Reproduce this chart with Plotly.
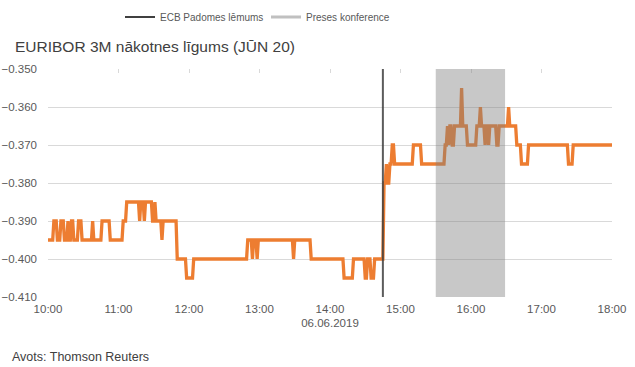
import plotly.graph_objects as go
from datetime import datetime, timedelta

DATE = "2019-06-06"

# change points of the EURIBOR 3M futures quote (value holds until next change)
times = [
    "10:00", "10:05", "10:08", "10:11", "10:14", "10:17", "10:18", "10:20", "10:22", "10:26",
    "10:29", "10:38", "10:39", "10:46", "10:53", "11:04", "11:07", "11:18", "11:19", "11:22",
    "11:23", "11:29", "11:31", "11:32", "11:37", "11:38", "11:50", "11:58", "12:04", "12:50",
    "12:54", "12:55", "12:58", "12:59", "13:29", "13:30", "13:44", "14:12", "14:20", "14:30",
    "14:32", "14:35", "14:38", "14:46", "14:48", "14:49", "14:51", "14:53", "14:55", "15:11",
    "15:18", "15:38", "15:40", "15:41", "15:42", "15:44", "15:46", "15:52", "15:53", "15:57",
    "16:05", "16:08", "16:09", "16:12", "16:13", "16:15", "16:16", "16:22", "16:24", "16:32",
    "16:33", "16:39", "16:43", "16:49", "17:23", "17:27", "18:00",
]
values = [
    -0.395, -0.390, -0.395, -0.390, -0.395, -0.390, -0.395, -0.390, -0.395, -0.390,
    -0.395, -0.390, -0.395, -0.390, -0.395, -0.390, -0.385, -0.390, -0.385, -0.390,
    -0.385, -0.390, -0.385, -0.390, -0.395, -0.390, -0.400, -0.405, -0.400, -0.395,
    -0.400, -0.395, -0.400, -0.395, -0.400, -0.395, -0.400, -0.405, -0.400, -0.405,
    -0.400, -0.405, -0.400, -0.380, -0.375, -0.380, -0.375, -0.370, -0.375, -0.370,
    -0.375, -0.370, -0.365, -0.370, -0.365, -0.370, -0.365, -0.355, -0.365, -0.370,
    -0.365, -0.360, -0.365, -0.370, -0.365, -0.370, -0.365, -0.370, -0.365, -0.360,
    -0.365, -0.370, -0.375, -0.370, -0.375, -0.370, -0.370,
]

ecb_decision = "14:45"
press_conf = ["15:30", "16:29"]

tick_times = ["10:00", "11:00", "12:00", "13:00", "14:00", "15:00", "16:00", "17:00", "18:00"]
tick_text = ["10:00", "11:00", "12:00", "13:00", "14:00<br>06.06.2019", "15:00", "16:00", "17:00", "18:00"]

title = "EURIBOR 3M nākotnes līgums (JŪN 20)"
legend_names = ["ECB Padomes lēmums", "Preses konference"]
source = "Avots: Thomson Reuters"

y_min, y_max = -0.410, -0.350


def dt(t):
    return datetime.strptime(f"{DATE} {t}", "%Y-%m-%d %H:%M")


# one-minute quotes: the previous value is still quoted one minute before each change
line_x, line_y = [], []
for i, (t, v) in enumerate(zip(times, values)):
    if i > 0:
        line_x.append(dt(t) - timedelta(minutes=1))
        line_y.append(values[i - 1])
    line_x.append(dt(t))
    line_y.append(v)

x_range = [dt("10:00"), dt("18:00")]

FONT = "Liberation Sans, Arial, sans-serif"
GREY_TXT = "#595959"

W, H = 635, 367
ML, MR, MT, MB = 48, 23, 69, 70
PW = W - ML - MR
PH = H - MT - MB

fig = go.Figure()
fig.add_trace(go.Scatter(
    x=line_x, y=line_y, mode="lines", line=dict(color="#ED7D31", width=3.3),
    showlegend=False,
))
fig.add_trace(go.Scatter(
    x=[x_range[0]], y=[None], mode="lines", name=legend_names[0],
    line=dict(color="#404040", width=2), xaxis="x2",
))
fig.add_trace(go.Scatter(
    x=[x_range[0]], y=[None], mode="lines", name=legend_names[1],
    line=dict(color="#C0C0C0", width=3), xaxis="x2",
))

fig.add_shape(type="rect", xref="x", yref="y", x0=dt(press_conf[0]), x1=dt(press_conf[1]),
              y0=y_min, y1=y_max, fillcolor="rgb(128,128,128)", opacity=0.43,
              line=dict(width=0), layer="above")
fig.add_shape(type="line", xref="x", yref="y", x0=dt(ecb_decision), x1=dt(ecb_decision),
              y0=y_min, y1=y_max, line=dict(color="#404040", width=2), opacity=0.85,
              layer="above")

fig.update_layout(
    width=W, height=H,
    margin=dict(l=ML, r=MR, t=MT, b=MB, autoexpand=False),
    paper_bgcolor="white", plot_bgcolor="white",
    font=dict(family=FONT, size=12, color=GREY_TXT),
    title=dict(text=title, x=15 / W, xanchor="left", xref="container",
               y=1 - 47 / H, yanchor="middle", yref="container",
               font=dict(family=FONT, size=15.5, color="#404040")),
    legend=dict(orientation="h", x=(120 - ML) / PW, xanchor="left",
                y=1 + (MT - 17) / PH, yanchor="middle",
                font=dict(family=FONT, size=10, color=GREY_TXT), itemwidth=30,
                entrywidth=101, entrywidthmode="pixels",
                bgcolor="rgba(0,0,0,0)"),
    xaxis=dict(type="date", range=x_range, tickvals=[dt(t) for t in tick_times],
               ticktext=tick_text, showgrid=False, showline=False, zeroline=False,
               ticks="", ticklabelstandoff=3, automargin=False,
               tickfont=dict(family=FONT, size=11.5, color=GREY_TXT)),
    xaxis2=dict(type="date", range=x_range, overlaying="x", side="top",
                tickvals=[dt(t) for t in tick_times], showticklabels=False,
                showgrid=False, showline=False, zeroline=False, automargin=False,
                ticks="inside", ticklen=4, tickcolor="#D9D9D9", tickwidth=1),
    yaxis=dict(range=[y_min, y_max], dtick=0.01, tick0=y_min, tickformat=".3f",
               showgrid=True, gridcolor="#D9D9D9", gridwidth=1, zeroline=False,
               showline=False, ticks="", ticklabelstandoff=10, automargin=False,
               tickfont=dict(family=FONT, size=11.5, color=GREY_TXT)),
    annotations=[dict(text=source, xref="paper", yref="paper",
                      x=(10 - ML) / PW, xanchor="left",
                      y=1 - (357 - MT) / PH, yanchor="middle", showarrow=False,
                      font=dict(family=FONT, size=12.5, color="#404040"))],
    hovermode=False,
)

# remove the browser's default 8px page margin so the figure fills the window
fig.write_html("out.html",
               config={"displayModeBar": False, "staticPlot": True},
               post_script="document.body.style.margin='0';document.body.style.overflow='hidden';")
